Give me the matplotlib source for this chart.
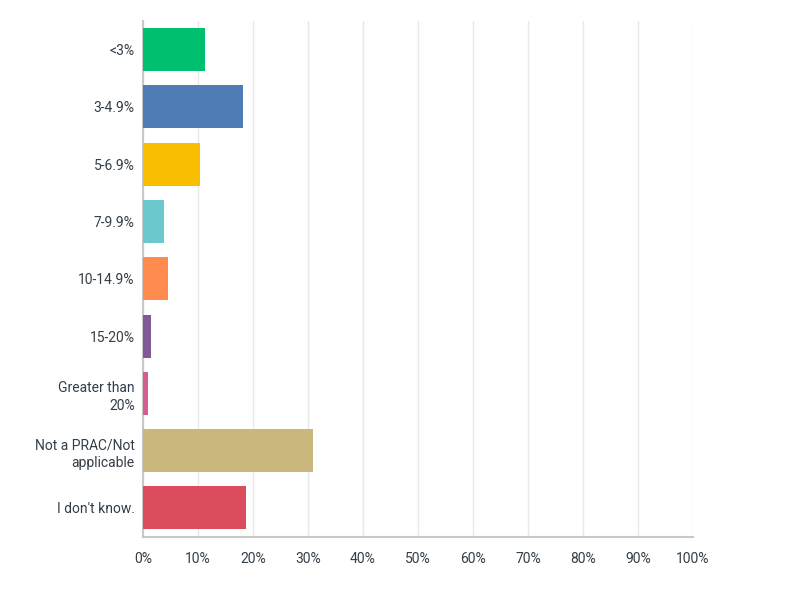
import matplotlib
matplotlib.use("Agg")
import matplotlib.pyplot as plt

categories = ["<3%", "3-4.9%", "5-6.9%", "7-9.9%", "10-14.9%", "15-20%",
              "Greater than\n20%", "Not a PRAC/Not\napplicable", "I don't know."]
values = [11.2, 18.1, 10.3, 3.8, 4.5, 1.4, 0.85, 30.9, 18.7]
colors = ["#00BF6F", "#507CB6", "#F9BE00", "#6BC8CD", "#FF8B4F",
          "#7F5A96", "#D25F90", "#C9B77D", "#DB4D5C"]
xticks = list(range(0, 101, 10))
xticklabels = [f"{t}%" for t in xticks]

plt.rcParams['font.family'] = ['Roboto', 'DejaVu Sans']

fig = plt.figure(figsize=(7.86, 6.03), dpi=100)
ax = fig.add_axes([143/786, 1 - 536.5/603, 550/786, (536.5-21)/603])

y = list(range(len(categories)))
ax.barh(y, values, height=0.75, color=colors, zorder=3)
ax.set_ylim(len(categories) - 0.5, -0.5)
ax.set_xlim(0, 100)
ax.set_xticks(xticks)
ax.set_xticklabels(xticklabels, fontsize=10, color="#333e48")
ax.set_yticks(y)
ax.set_yticklabels(categories, fontsize=10, color="#333e48", ha="right",
                   multialignment="right", linespacing=1.35)
ax.tick_params(axis="both", length=0)
ax.tick_params(axis="x", pad=11)
ax.tick_params(axis="y", pad=6)
ax.grid(axis="x", color="#e8e8e8", linewidth=1, zorder=0)
for s in ["top", "right"]:
    ax.spines[s].set_visible(False)
ax.spines["left"].set_color("#c8c8c8")
ax.spines["bottom"].set_color("#c8c8c8")
ax.spines["left"].set_linewidth(1.5)
ax.spines["bottom"].set_linewidth(1.5)

fig.savefig("out.png", dpi=100)
